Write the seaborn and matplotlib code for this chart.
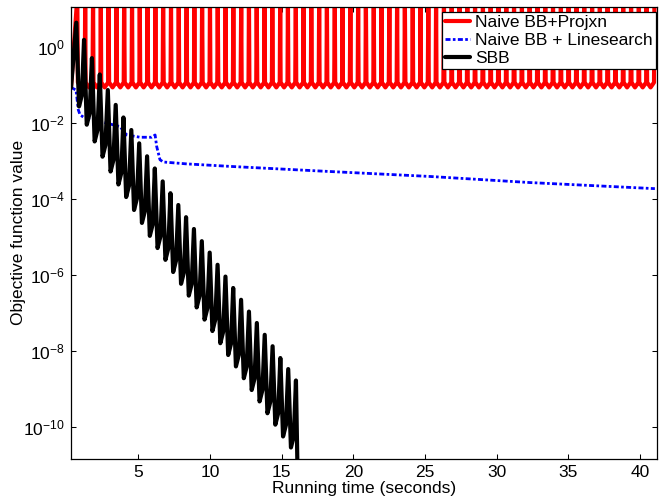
import numpy as np
import pandas as pd
import matplotlib
matplotlib.use("Agg")
import matplotlib.pyplot as plt
import seaborn as sns

# ==========================
# values (time in seconds, "log" = log10 of objective)
# ==========================

# Naive BB + Projxn: oscillates between ~0.09 and above the top of the axes
red_start_t = 0.30
red_peak_t = [0.74, 1.29, 1.84, 2.38, 2.92, 3.47, 4.01, 4.56, 5.10, 5.64, 6.19,
              6.73, 7.28, 7.82, 8.37, 8.91, 9.45, 10.00, 10.54, 11.09, 11.63,
              12.18, 12.72, 13.26, 13.81, 14.35, 14.90, 15.44, 15.99, 16.53,
              17.07, 17.62, 18.16, 18.71, 19.25, 19.80, 20.34, 20.88, 21.43,
              21.97, 22.52, 23.06, 23.60, 24.15, 24.69, 25.24, 25.78, 26.33,
              26.87, 27.41, 27.96, 28.50, 29.05, 29.59, 30.13, 30.68, 31.22,
              31.77, 32.31, 32.86, 33.40, 33.94, 34.49, 35.03, 35.58, 36.12,
              36.67, 37.21, 37.75, 38.30, 38.84, 39.39, 39.93, 40.47, 41.02]
red_trough_t = [1.02, 1.56, 2.11, 2.65, 3.20, 3.74, 4.29, 4.83, 5.37, 5.92,
                6.46, 7.01, 7.55, 8.09, 8.64, 9.18, 9.73, 10.27, 10.82, 11.36,
                11.90, 12.45, 12.99, 13.54, 14.08, 14.63, 15.17, 15.71, 16.26,
                16.80, 17.35, 17.89, 18.43, 18.98, 19.52, 20.07, 20.61, 21.16,
                21.70, 22.24, 22.79, 23.33, 23.88, 24.42, 24.96, 25.51, 26.05,
                26.60, 27.14, 27.69, 28.23, 28.77, 29.32, 29.86, 30.41, 30.95,
                31.50, 32.04, 32.58, 33.13, 33.67, 34.22, 34.76, 35.30, 35.85,
                36.39, 36.94, 37.48, 38.03, 38.57, 39.11, 39.66, 40.20, 40.75]
red_low = 0.085     # bottom of each U
red_knee = 0.115    # where the U bottom bends into the vertical sides
red_knee_dt = 0.24  # half width of the U at the bend (s)
red_high = 20.0     # peaks are clipped by the top of the axes

# Naive BB + Linesearch
blue_t = [0.30, 0.65, 0.81, 0.93, 1.28, 1.86, 2.80, 3.72, 4.19, 5.12, 5.93,
          6.17, 6.28, 6.51, 6.74, 8.38, 11.63, 16.28, 18.37, 25.35, 32.33, 41.05]
blue_log = [-1.07, -1.14, -1.66, -1.79, -1.88, -1.92, -2.01, -2.10, -2.32, -2.38,
            -2.38, -2.32, -2.62, -2.97, -3.03, -3.08, -3.15, -3.24, -3.28, -3.41,
            -3.57, -3.73]

# SBB: spikes with a shoulder before each one
sbb_start = (0.30, -1.08)
sbb_peak_t = [0.67, 1.21, 1.76, 2.31, 2.87, 3.42, 3.96, 4.51, 5.06, 5.61, 6.15,
              6.70, 7.24, 7.79, 8.33, 8.88, 9.43, 9.98, 10.53, 11.08, 11.62,
              12.17, 12.72, 13.27, 13.82, 14.37, 14.91, 15.46, 16.00]
sbb_peak_log = [0.63, 0.18, -0.30, -0.73, -1.14, -1.53, -1.86, -2.19, -2.54,
                -2.88, -3.20, -3.54, -3.85, -4.16, -4.48, -4.79, -5.11, -5.41,
                -5.73, -6.04, -6.34, -6.65, -6.96, -7.26, -7.57, -7.87, -8.18,
                -8.47, -8.77]
sbb_trough_t = [0.86, 1.40, 1.95, 2.50, 3.06, 3.61, 4.15, 4.70, 5.25, 5.80,
                6.34, 6.89, 7.43, 7.98, 8.52, 9.07, 9.62, 10.17, 10.72, 11.27,
                11.81, 12.36, 12.91, 13.46, 14.01, 14.56, 15.10, 15.65]
sbb_trough_log = [-1.57, -2.05, -2.49, -2.89, -3.28, -3.62, -3.95, -4.29, -4.63,
                  -4.97, -5.29, -5.60, -5.92, -6.23, -6.54, -6.85, -7.17, -7.47,
                  -7.79, -8.10, -8.40, -8.71, -9.02, -9.32, -9.63, -9.93, -10.24,
                  -10.53]
sbb_shoulder_t = [1.06, 1.60, 2.15, 2.70, 3.26, 3.81, 4.35, 4.90, 5.45, 6.00,
                  6.54, 7.09, 7.63, 8.18, 8.72, 9.27, 9.82, 10.37, 10.92, 11.47,
                  12.01, 12.56, 13.11, 13.66, 14.21, 14.76, 15.30, 15.85]
sbb_shoulder_log = [-1.27, -1.75, -2.19, -2.59, -2.98, -3.32, -3.65, -3.99,
                    -4.33, -4.67, -4.99, -5.30, -5.62, -5.93, -6.24, -6.55,
                    -6.87, -7.17, -7.49, -7.80, -8.10, -8.41, -8.72, -9.02,
                    -9.33, -9.63, -9.94, -10.23]
sbb_end = (16.12, -11.4)

x_ticks = [5, 10, 15, 20, 25, 30, 35, 40]
y_ticks = [1e-10, 1e-8, 1e-6, 1e-4, 1e-2, 1e0]
y_tick_labels = [r"$10^{-10}$", r"$10^{-8}$", r"$10^{-6}$", r"$10^{-4}$",
                 r"$10^{-2}$", r"$10^{0}$"]
labels = ["Naive BB+Projxn", "Naive BB + Linesearch", "SBB"]

# ==========================
# build the polylines
# ==========================
red_x, red_y = [red_start_t, red_peak_t[0]], [red_low, red_high]
for k, t in enumerate(red_trough_t):
    red_x += [t - red_knee_dt, t, t + red_knee_dt, red_peak_t[k + 1]]
    red_y += [red_knee, red_low, red_knee, red_high]
red = pd.DataFrame({"t": red_x, "f": red_y})

blue = pd.DataFrame({"t": blue_t, "f": 10.0 ** np.array(blue_log)})

sbb_x, sbb_l = [sbb_start[0]], [sbb_start[1]]
for i in range(len(sbb_peak_t)):
    sbb_x.append(sbb_peak_t[i])
    sbb_l.append(sbb_peak_log[i])
    if i < len(sbb_trough_t):
        sbb_x += [sbb_trough_t[i], sbb_shoulder_t[i]]
        sbb_l += [sbb_trough_log[i], sbb_shoulder_log[i]]
sbb_x.append(sbb_end[0])
sbb_l.append(sbb_end[1])
sbb = pd.DataFrame({"t": sbb_x, "f": 10.0 ** np.array(sbb_l)})

# ==========================
# plot
# ==========================
sns.set_style("ticks")
plt.rcParams["font.family"] = ["Liberation Sans", "DejaVu Sans"]
plt.rcParams["mathtext.default"] = "regular"
plt.rcParams["font.size"] = 12.5
for key in ["text.color", "axes.labelcolor", "xtick.color", "ytick.color"]:
    plt.rcParams[key] = "black"

fig = plt.figure(figsize=(6.59, 4.98), dpi=100)
ax = fig.add_axes([0.1073, 0.0783, 0.8897, 0.9082])

sns.lineplot(data=red, x="t", y="f", ax=ax, sort=False, estimator=None,
             color="#ff0000", lw=3, solid_joinstyle="round", label=labels[0])
sns.lineplot(data=blue, x="t", y="f", ax=ax, sort=False, estimator=None,
             color="#0000ff", lw=2, linestyle=(0, (1.8, 0.85, 0.95, 0.85)),
             label=labels[1])
sns.lineplot(data=sbb, x="t", y="f", ax=ax, sort=False, estimator=None,
             color="black", lw=3, solid_joinstyle="round", label=labels[2])

ax.set_yscale("log")
ax.set_xlim(0.28, 41.2)
ax.set_ylim(1.47e-11, 11.2)
ax.set_xticks(x_ticks)
ax.set_yticks(y_ticks)
ax.set_yticklabels(y_tick_labels)
ax.yaxis.set_minor_locator(matplotlib.ticker.NullLocator())
ax.tick_params(direction="in", top=True, right=True, length=3.6, width=0.75,
               labelsize=12.5, pad=4, colors="black")
for s in ax.spines.values():
    s.set_linewidth(0.9)
    s.set_color("black")

ax.set_xlabel("Running time (seconds)", fontsize=12.5, labelpad=1)
ax.set_ylabel("Objective function value", fontsize=12.5, labelpad=-1.5)

leg = ax.legend(loc="upper right", bbox_to_anchor=(0.998, 0.989),
                borderaxespad=0, fancybox=False, framealpha=1,
                edgecolor="black", fontsize=12.5, borderpad=0.2,
                labelspacing=0.15, handlelength=1.45, handletextpad=0.25)
leg.get_frame().set_linewidth(0.9)

fig.savefig("out.png", dpi=100)
